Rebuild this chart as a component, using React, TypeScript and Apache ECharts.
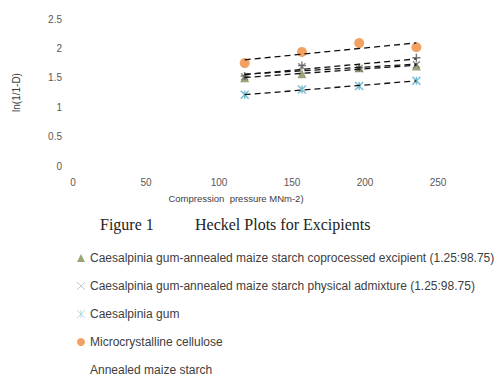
import React, { useEffect, useRef } from "react";
import * as echarts from "echarts";

const pressures = [117.6, 156.8, 196.0, 235.2];
const coprocessed = [1.5, 1.57, 1.67, 1.7];
const physical = [1.52, 1.69, 1.66, 1.72];
const caesalpinia = [1.21, 1.3, 1.36, 1.45];
const mcc = [1.75, 1.94, 2.09, 2.02];
const annealed = [1.53, 1.71, 1.67, 1.84];
const yTicks = [0, 0.5, 1, 1.5, 2, 2.5];

const names = [
  "Caesalpinia gum-annealed maize starch coprocessed excipient (1.25:98.75)",
  "Caesalpinia gum-annealed maize starch physical admixture (1.25:98.75)",
  "Caesalpinia gum",
  "Microcrystalline cellulose",
  "Annealed maize starch",
];

const X_PATH = "path://M0,0L10,10M10,0L0,10";
const STAR_PATH = "path://M0,0L10,10M10,0L0,10M5,0L5,10";
const PLUS_PATH = "path://M5,0L5,10M0,5L10,5";

function trend(ys: number[]) {
  const n = pressures.length;
  const mx = pressures.reduce((a, b) => a + b, 0) / n;
  const my = ys.reduce((a, b) => a + b, 0) / n;
  let sxy = 0, sxx = 0;
  for (let i = 0; i < n; i++) {
    sxy += (pressures[i] - mx) * (ys[i] - my);
    sxx += (pressures[i] - mx) ** 2;
  }
  const b = sxy / sxx;
  const a = my - b * mx;
  const x0 = pressures[0], x1 = pressures[n - 1];
  return [[x0, a + b * x0], [x1, a + b * x1]];
}

export default function App() {
  const ref = useRef<HTMLDivElement>(null);
  useEffect(() => {
    if (!ref.current) return;
    const chart = echarts.init(ref.current, undefined, { renderer: "svg" });
    const defs = [
      { name: names[0], data: coprocessed, symbol: "triangle", color: "#7f8f55", size: 9, stroke: false },
      { name: names[1], data: physical, symbol: X_PATH, color: "#6e6e6e", size: 7, stroke: true },
      { name: names[2], data: caesalpinia, symbol: STAR_PATH, color: "#4bacc6", size: 8, stroke: true },
      { name: names[3], data: mcc, symbol: "circle", color: "#f08a3c", size: 10, stroke: false },
      { name: names[4], data: annealed, symbol: PLUS_PATH, color: "#555555", size: 8, stroke: true },
    ];
    const scatter = defs.map((d) => ({
      type: "scatter",
      name: d.name,
      symbol: d.symbol,
      symbolSize: d.size,
      data: pressures.map((x, i) => [x, d.data[i]]),
      itemStyle: d.stroke
        ? { color: d.color, borderColor: d.color, borderWidth: 1.4 }
        : { color: d.color },
      z: 3,
    }));
    const lines = defs.map((d) => ({
      type: "line",
      name: "trend-" + d.name,
      data: trend(d.data),
      symbol: "none",
      lineStyle: { color: "#111", width: 1.3, type: [6, 4] },
      z: 4,
      silent: true,
    }));
    const legendData = defs.map((d, i) => ({
      name: d.name,
      icon: d.symbol,
      itemStyle:
        i === 4
          ? { opacity: 0 }
          : d.stroke
          ? { color: "#ccc", borderColor: i === 2 ? "#9fd3e0" : "#bbbbbb", borderWidth: 1 }
          : { color: d.color },
    }));
    chart.setOption({
      animation: false,
      textStyle: { fontFamily: "Liberation Sans" },
      grid: { left: 73, right: 65, top: 19, bottom: 215, containLabel: false },
      xAxis: {
        type: "value",
        min: 0,
        max: 250,
        interval: 50,
        axisLine: { show: false },
        axisTick: { show: false },
        splitLine: { show: false },
        axisLabel: { color: "#595959", fontSize: 10, margin: 11 },
      },
      yAxis: {
        type: "value",
        min: yTicks[0],
        max: yTicks[yTicks.length - 1],
        interval: 0.5,
        axisLine: { show: false },
        axisTick: { show: false },
        splitLine: { show: false },
        axisLabel: { color: "#595959", fontSize: 10, margin: 11 },
        name: "ln(1/1-D)",
        nameLocation: "middle",
        nameGap: 52,
        nameTextStyle: { color: "#404040", fontSize: 10 },
      },
      legend: {
        orient: "vertical",
        left: 76,
        top: 252,
        height: 135,
        padding: 0,
        itemWidth: 8,
        itemHeight: 8,
        itemGap: 16,
        data: legendData,
        textStyle: { color: "#404040", fontSize: 12, fontFamily: "Liberation Sans" },
        selectedMode: false,
      },
      graphic: [
        {
          type: "text",
          x: 236,
          y: 198,
          style: {
            text: "Compression  pressure MNm-2)",
            font: '9.5px "Liberation Sans"',
            fill: "#404040",
            align: "center",
            verticalAlign: "middle",
          },
        },
        {
          type: "text",
          x: 100,
          y: 224,
          style: {
            text: "Figure 1",
            font: '16px "Liberation Serif"',
            fill: "#222",
            verticalAlign: "middle",
          },
        },
        {
          type: "text",
          x: 195,
          y: 224,
          style: {
            text: "Heckel Plots for Excipients",
            font: '16px "Liberation Serif"',
            fill: "#222",
            verticalAlign: "middle",
          },
        },
      ],
      series: [...scatter, ...lines],
    });
    return () => chart.dispose();
  }, []);
  return <div ref={ref} style={{ width: 503, height: 381, position: "absolute", left: 0, top: 0, background: "#fff" }} />;
}
